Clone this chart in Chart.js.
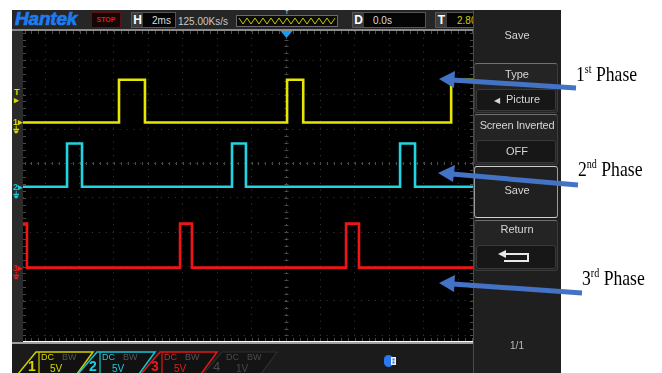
<!DOCTYPE html>
<html>
<head>
<meta charset="utf-8">
<script src="https://cdn.jsdelivr.net/npm/chart.js@4.4.1/dist/chart.umd.min.js"></script>
<style>
  body { margin: 0; width: 662px; height: 373px; background: #fff; position: relative; overflow: hidden;
         font-family: "Liberation Sans", Arial, sans-serif; }
  .abs { position: absolute; }
  .hdr { left: 12px; top: 10px; width: 461px; height: 19px; background: #262626; }
  .sep { left: 12px; top: 29px; width: 461px; height: 2px; background: #8c8c8c; }
  .logo { left: 15px; top: 8px; font: italic 900 19px "Liberation Sans", Arial; color: #1d7cf2;
          letter-spacing: -0.2px; -webkit-text-stroke: 0.7px #1d7cf2; }
  .box { top: 12px; height: 14px; background: #050505; border: 1px solid #555; color: #ddd; font-size: 10px; line-height: 14px; overflow: hidden; white-space: nowrap; }
  .key { display: inline-block; background: #3c3c3c; color: #fff; font-weight: bold; font-size: 12px; width: 11px; text-align: center; height: 14px; }
  .strip { left: 12px; top: 31px; width: 11px; height: 311px; background: #2a2a2a; }
  .plot { left: 23px; top: 31px; width: 450px; height: 310px; background: #000; }
  .bline { left: 12px; top: 342px; width: 461px; height: 2px; background: #a0a0a0; }
  .bbar { left: 12px; top: 344px; width: 461px; height: 29px; background: #1b1b1b; }
  .panel { left: 473px; top: 10px; width: 88px; height: 363px; background: #1f1f1f; border-left: 1px solid #4a4a4a; box-sizing: border-box; }
  .mtxt { color: #d6d6d6; font-size: 11px; text-align: center; width: 88px; left: 473px; }
  .mbox { left: 474px; width: 84px; background: #242424; border: 1px solid #3c3c3c; border-top-color: #707070; border-radius: 3px; box-sizing: border-box; }
  .ibox { left: 476px; width: 80px; background: #171717; border: 1px solid #3a3a3a; border-radius: 3px; box-sizing: border-box; }
  .phase { font-family: "Liberation Serif", "Times New Roman", serif; font-size: 21px; color: #000;
           transform: scaleX(0.84); transform-origin: left top; white-space: nowrap; }
  .phase sup { font-size: 12px; vertical-align: 8px; line-height: 0; }
  .mk { font-size: 9px; line-height: 8px; font-weight: bold; }
</style>
</head>
<body>
<!-- header bar -->
<div class="abs hdr"></div>
<div class="abs sep"></div>
<div class="abs logo">Hantek</div>
<div class="abs box" style="left:91px;width:28px;border-color:#5a1212;background:#160606;color:#e01c1c;font:bold 7px 'Liberation Sans';line-height:14px;text-align:center">STOP</div>
<div class="abs box" style="left:131px;width:43px"><span class="key">H</span><span style="margin-left:9px">2ms</span></div>
<div class="abs" style="left:178px;top:16px;font-size:10px;color:#c8c8c8">125.00Ks/s</div>
<div class="abs box" style="left:236px;top:15px;height:10px;width:100px;border-color:#6a6a6a;background:#0c0c0c">
  <svg width="100" height="10"><polyline fill="none" stroke="#c8c800" stroke-width="1"
    points="2,2 6,8 10,2 14,8 18,2 22,8 26,2 30,8 34,2 38,8 42,2 46,8 50,2 54,8 58,2 62,8 66,2 70,8 74,2 78,8 82,2 86,8 90,2 94,8 98,2"/></svg>
</div>
<div class="abs" style="left:285px;top:9px;font-size:6px;color:#ddd">T</div>
<div class="abs box" style="left:352px;width:72px"><span class="key">D</span><span style="margin-left:9px">0.0s</span></div>
<div class="abs box" style="left:435px;width:37px;border-right:none"><span class="key">T</span><span style="margin-left:10px;color:#c8d400">2.80V</span></div>

<!-- graticule -->
<div class="abs strip"></div>
<div class="abs plot"><canvas id="scope" width="450" height="310"></canvas></div>
<div class="abs mk" style="left:14px;top:88px;color:#d8d800">T<br>&#9656;</div>
<div class="abs mk" style="left:13px;top:118px;color:#d8d800">1&#9656;<br>&#9178;</div>
<div class="abs mk" style="left:13px;top:183px;color:#20c8d8">2&#9656;<br>&#9178;</div>
<div class="abs mk" style="left:13px;top:264px;color:#e81c1c">3&#9656;<br>&#9178;</div>

<!-- bottom channel tabs -->
<div class="abs bline"></div>
<div class="abs bbar"></div>
<svg class="abs" style="left:0;top:0" width="662" height="373">
  <g font-family="Liberation Sans, Arial" >
    <polygon points="18,374 36,352 93,352 77,374" fill="#111" stroke="#d0d000" stroke-width="1.5"/>
    <line x1="39" y1="352" x2="39" y2="374" stroke="#d0d000" stroke-width="1.2"/>
    <text x="28" y="371" font-size="14" font-weight="bold" fill="#d8d800">1</text>
    <text x="41" y="360" font-size="9" fill="#d8d800">DC</text>
    <text x="62" y="360" font-size="9" fill="#555">BW</text>
    <text x="50" y="372" font-size="10" fill="#d8d800">5V</text>

    <polygon points="78,374 97,352 155,352 139,374" fill="#111" stroke="#18c4d4" stroke-width="1.5"/>
    <line x1="100" y1="352" x2="100" y2="374" stroke="#18c4d4" stroke-width="1.2"/>
    <text x="89" y="371" font-size="14" font-weight="bold" fill="#20ccdc">2</text>
    <text x="102" y="360" font-size="9" fill="#20ccdc">DC</text>
    <text x="123" y="360" font-size="9" fill="#555">BW</text>
    <text x="112" y="372" font-size="10" fill="#20ccdc">5V</text>

    <polygon points="141,374 160,352 217,352 201,374" fill="#111" stroke="#e01818" stroke-width="1.5"/>
    <line x1="162" y1="352" x2="162" y2="374" stroke="#e01818" stroke-width="1.2"/>
    <text x="151" y="371" font-size="14" font-weight="bold" fill="#e81c1c">3</text>
    <text x="164" y="360" font-size="9" fill="#e81c1c">DC</text>
    <text x="185" y="360" font-size="9" fill="#555">BW</text>
    <text x="174" y="372" font-size="10" fill="#e81c1c">5V</text>

    <polygon points="203,374 222,352 277,352 261,374" fill="#141414" stroke="#2e2e2e" stroke-width="1.2"/>
    <text x="213" y="371" font-size="13" fill="#4a4a4a">4</text>
    <text x="226" y="360" font-size="9" fill="#4a4a4a">DC</text>
    <text x="247" y="360" font-size="9" fill="#4a4a4a">BW</text>
    <text x="236" y="372" font-size="10" fill="#4a4a4a">1V</text>

    <rect x="384" y="355" width="9" height="12" rx="4.5" fill="#2a78f0"/>
    <rect x="391" y="357" width="5" height="8" fill="#eee"/>
    <rect x="392.5" y="358.5" width="2" height="2" fill="#2a78f0"/>
    <rect x="392.5" y="361.5" width="2" height="2" fill="#2a78f0"/>
  </g>
</svg>

<!-- side menu -->
<div class="abs panel"></div>
<div class="abs mtxt" style="top:29px">Save</div>
<div class="abs mbox" style="top:63px;height:50px"></div>
<div class="abs mtxt" style="top:68px">Type</div>
<div class="abs ibox" style="top:89px;height:22px"></div>
<div class="abs mtxt" style="top:93px"><span style="font-size:8px;margin-right:6px">&#9664;</span>Picture</div>
<div class="abs mbox" style="top:114px;height:51px"></div>
<div class="abs mtxt" style="top:119px;font-size:11px;letter-spacing:-0.2px">Screen Inverted</div>
<div class="abs ibox" style="top:140px;height:23px"></div>
<div class="abs mtxt" style="top:145px">OFF</div>
<div class="abs mbox" style="top:166px;height:52px;border-color:#9a9a9a;border-top-color:#d0d0d0;border-bottom-color:#d0d0d0;background:#202020"></div>
<div class="abs mtxt" style="top:184px">Save</div>
<div class="abs mbox" style="top:220px;height:51px"></div>
<div class="abs mtxt" style="top:223px">Return</div>
<div class="abs ibox" style="top:245px;height:24px"></div>
<svg class="abs" style="left:498px;top:249px" width="40" height="16">
  <polyline points="6,5 30,5 30,12 6,12" fill="none" stroke="#e8e8e8" stroke-width="2"/>
  <polygon points="0,5 8,1 8,9" fill="#e8e8e8"/>
</svg>
<div class="abs mtxt" style="top:340px;font-size:10px;color:#bbb">1/1</div>

<!-- phase call-outs -->
<svg class="abs" style="left:0;top:0" width="662" height="373">
  <g stroke="#4472c4" stroke-width="5" fill="#4472c4">
    <line x1="452" y1="80" x2="576" y2="88"/>
    <polygon points="439,79 455,71 454,88" stroke="none"/>
    <line x1="452" y1="174" x2="578" y2="185"/>
    <polygon points="438,173 455,165 453,182" stroke="none"/>
    <line x1="453" y1="284" x2="582" y2="293"/>
    <polygon points="439,283 455,275 454,292" stroke="none"/>
  </g>
</svg>
<div class="abs phase" style="left:576px;top:62px">1<sup>st</sup> Phase</div>
<div class="abs phase" style="left:578px;top:157px">2<sup>nd</sup> Phase</div>
<div class="abs phase" style="left:582px;top:266px">3<sup>rd</sup> Phase</div>

<script>
// time in ms (trigger at 0), level in volts; each level holds until the next time
const ch1Times = [-15.29, -9.71, -8.2, 0.06, 1.0, 9.6, 10.87];
const ch1Volts = [0, 6.2, 0, 6.2, 0, 6.2, 6.2];
const ch2Times = [-15.29, -12.73, -11.86, -3.14, -2.33, 6.63, 7.5, 10.87];
const ch2Volts = [0, 6.3, 0, 6.3, 0, 6.3, 0, 0];
const ch3Times = [-15.29, -15.06, -6.16, -5.47, 3.49, 4.24, 10.87];
const ch3Volts = [6.4, 0, 6.4, 0, 6.4, 0, 0];

// ground marker of each channel, in divisions above the lowest full gridline
const chOffsets = [5.19, 3.32, 0.97];
const voltsPerDiv = [5, 5, 5];
const chColors = ['#e6e600', '#22d4e2', '#f21414'];

const timeMin = -15.29, timeMax = 10.87;   // 2 ms/div
const divMin = -1.163, divMax = 7.849;
const yCentre = 4;

function trace(times, volts, i) {
  return {
    data: times.map((t, k) => ({x: t, y: chOffsets[i] + volts[k] / voltsPerDiv[i]})),
    borderColor: chColors[i],
    borderWidth: 2.6,
    pointRadius: 0,
    stepped: true,
    fill: false
  };
}

// minor ticks on the frame and on the centre cross, plus the trigger pointer
const graticule = {
  id: 'graticule',
  beforeDatasetsDraw(chart) {
    const {ctx, chartArea: a, scales: {x, y}} = chart;
    const x0 = Math.round(x.getPixelForValue(0)) + 0.5;
    const y0 = Math.round(y.getPixelForValue(yCentre)) + 0.5;
    ctx.save();
    ctx.lineWidth = 1;
    ctx.strokeStyle = '#4a4a4a';
    ctx.beginPath();
    for (let t = Math.ceil(timeMin / 0.4) * 0.4; t <= timeMax; t += 0.4) {
      const px = Math.round(x.getPixelForValue(t)) + 0.5;
      ctx.moveTo(px, a.top); ctx.lineTo(px, a.top + 3);
      ctx.moveTo(px, a.bottom - 3); ctx.lineTo(px, a.bottom);
      ctx.moveTo(px, y0 - 1.5); ctx.lineTo(px, y0 + 1.5);
    }
    for (let d = Math.ceil(divMin / 0.2) * 0.2; d <= divMax; d += 0.2) {
      const py = Math.round(y.getPixelForValue(d)) + 0.5;
      ctx.moveTo(a.left, py); ctx.lineTo(a.left + 3, py);
      ctx.moveTo(a.right - 3, py); ctx.lineTo(a.right, py);
      ctx.moveTo(x0 - 2, py); ctx.lineTo(x0 + 2, py);
    }
    ctx.stroke();
    ctx.fillStyle = '#1e9be8';
    ctx.beginPath();
    ctx.moveTo(x0 - 6, a.top); ctx.lineTo(x0 + 6, a.top); ctx.lineTo(x0, a.top + 7);
    ctx.closePath();
    ctx.fill();
    ctx.restore();
  }
};

new Chart(document.getElementById('scope'), {
  type: 'line',
  data: {
    datasets: [
      trace(ch1Times, ch1Volts, 0),
      trace(ch2Times, ch2Volts, 1),
      trace(ch3Times, ch3Volts, 2)
    ]
  },
  options: {
    responsive: false,
    animation: false,
    layout: {padding: 0},
    plugins: {legend: {display: false}, tooltip: {enabled: false}},
    scales: {
      x: {
        type: 'linear', min: timeMin, max: timeMax,
        ticks: {display: false, stepSize: 2, includeBounds: false},
        grid: {drawTicks: false, color: c => c.tick.value === 0 ? '#5a5a5a' : '#3a3a3a'},
        border: {display: false, dash: [1, 5.9]}
      },
      y: {
        type: 'linear', min: divMin, max: divMax,
        ticks: {display: false, stepSize: 1, includeBounds: false},
        grid: {drawTicks: false, color: c => c.tick.value === yCentre ? '#4a4a4a' : '#3a3a3a'},
        border: {display: false, dash: [1, 5.9]}
      }
    }
  },
  plugins: [graticule]
});
</script>
</body>
</html>
